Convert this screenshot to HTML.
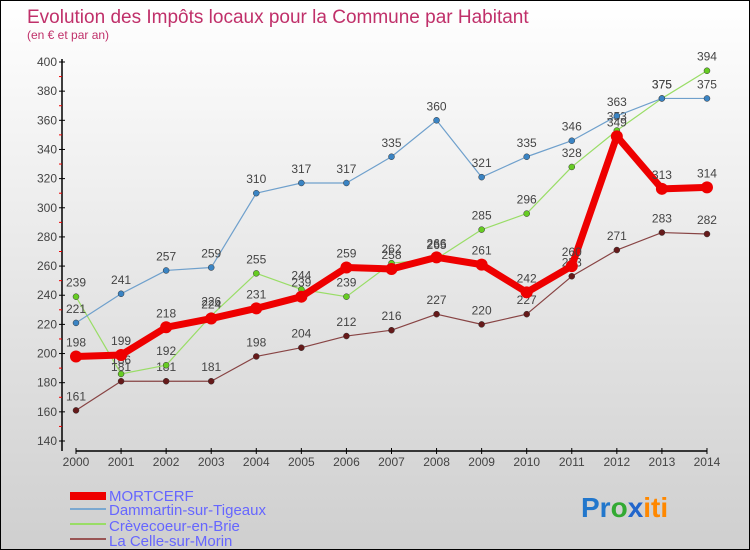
<!DOCTYPE html>
<html><head><meta charset="utf-8"><style>
body{margin:0;}
#c{width:748px;height:548px;border:1px solid #000;background:linear-gradient(#ffffff,#cfcfcf);position:relative;overflow:hidden;font-family:"Liberation Sans",sans-serif;}
</style></head><body>
<div id="c">
<svg id="s" width="748" height="548" style="position:absolute;left:0;top:0">
<text x="26" y="22" font-size="19" fill="#c0306a">Evolution des Impôts locaux pour la Commune par Habitant</text>
<text x="26" y="38" font-size="12" fill="#c0306a">(en € et par an)</text>
<g id="ax"></g><g id="ser"></g>
<g>
<rect x="69" y="491" width="36" height="8" fill="#ee0000"/>
<text x="108" y="500" font-size="15" fill="#6666ff">MORTCERF</text>
<rect x="69" y="507" width="36" height="2" fill="#7aa8d0"/>
<text x="108" y="514" font-size="15" fill="#6666ff">Dammartin-sur-Tigeaux</text>
<rect x="69" y="522" width="36" height="2" fill="#99dd66"/>
<text x="108" y="530" font-size="15" fill="#6666ff">Crèvecoeur-en-Brie</text>
<rect x="69" y="537" width="36" height="2" fill="#995555"/>
<text x="108" y="545" font-size="15" fill="#6666ff">La Celle-sur-Morin</text>
</g>
<text x="580" y="516" font-size="28" font-weight="bold"><tspan fill="#2277cc">Pr</tspan><tspan fill="#33aa33">o</tspan><tspan fill="#2266cc">x</tspan><tspan fill="#ff8800">iti</tspan></text>
</svg>
</div>
<script>
const years=[2000,2001,2002,2003,2004,2005,2006,2007,2008,2009,2010,2011,2012,2013,2014];
const mortcerf=[198,199,218,224,231,239,259,258,266,261,242,260,349,313,314];
const dammartin=[221,241,257,259,310,317,317,335,360,321,335,346,363,375,375];
const crevecoeur=[239,186,192,226,255,244,239,262,265,285,296,328,353,375,394];
const lacelle=[161,181,181,181,198,204,212,216,227,220,227,253,271,283,282];
const yTicks=[140,160,180,200,220,240,260,280,300,320,340,360,380,400];
const NS="http://www.w3.org/2000/svg";
function X(i){return 75+i*45.07;}
function Y(v){return 440-(v-140)*(379/260);}
function mk(t,a,p){const e=document.createElementNS(NS,t);for(const k in a)e.setAttribute(k,a[k]);p.appendChild(e);return e;}
const ax=document.getElementById('ax');
let l=mk('line',{x1:61,y1:58,x2:61,y2:450,stroke:'#000','stroke-width':1.5},ax);


l=mk('line',{x1:75,y1:450,x2:706,y2:450,stroke:'#000','stroke-width':1.5},ax);


yTicks.forEach((v,i)=>{
 mk('line',{x1:58,y1:Y(v),x2:64,y2:Y(v),stroke:'#000'},ax);
 if(i<yTicks.length-1)mk('line',{x1:58,y1:Y(v+10),x2:61,y2:Y(v+10),stroke:'#e00'},ax);
 const t=mk('text',{x:56,y:Y(v)+4,'font-size':12,'text-anchor':'end',fill:'#444'},ax);t.textContent=v;
 
 
});
years.forEach((y,i)=>{
 mk('line',{x1:X(i),y1:447,x2:X(i),y2:453,stroke:'#000'},ax);
 const t=mk('text',{x:X(i),y:465,'font-size':12,'text-anchor':'middle',fill:'#444'},ax);t.textContent=y;
 
 
});
const ser=document.getElementById('ser');
function draw(d,name,col,dot,w,r){
 const g=mk('g',{},ser);
 
 
 const p=mk('polyline',{points:d.map((v,i)=>X(i)+','+Y(v)).join(' '),fill:'none',stroke:col,'stroke-width':w,'stroke-linejoin':'round'},g);
 
 
 d.forEach((v,i)=>{
  const c=mk('circle',{cx:X(i),cy:Y(v),r:r,fill:dot,stroke:w>3?'none':'#333','stroke-width':0.5},g);
  
  
  const t=mk('text',{x:X(i),y:Y(v)-10,'font-size':12,'text-anchor':'middle',fill:'#444'},g);t.textContent=v;
  
  
 });
}
draw(lacelle,'la-celle','#884444','#661a1a',1.2,3);
draw(crevecoeur,'crevecoeur','#99dd66','#66cc22',1.2,3);
draw(dammartin,'dammartin','#6fa0cc','#3a84c4',1.2,3);
draw(mortcerf,'mortcerf','#ee0000','#ee0000',7,6);
</script>
</body></html>
